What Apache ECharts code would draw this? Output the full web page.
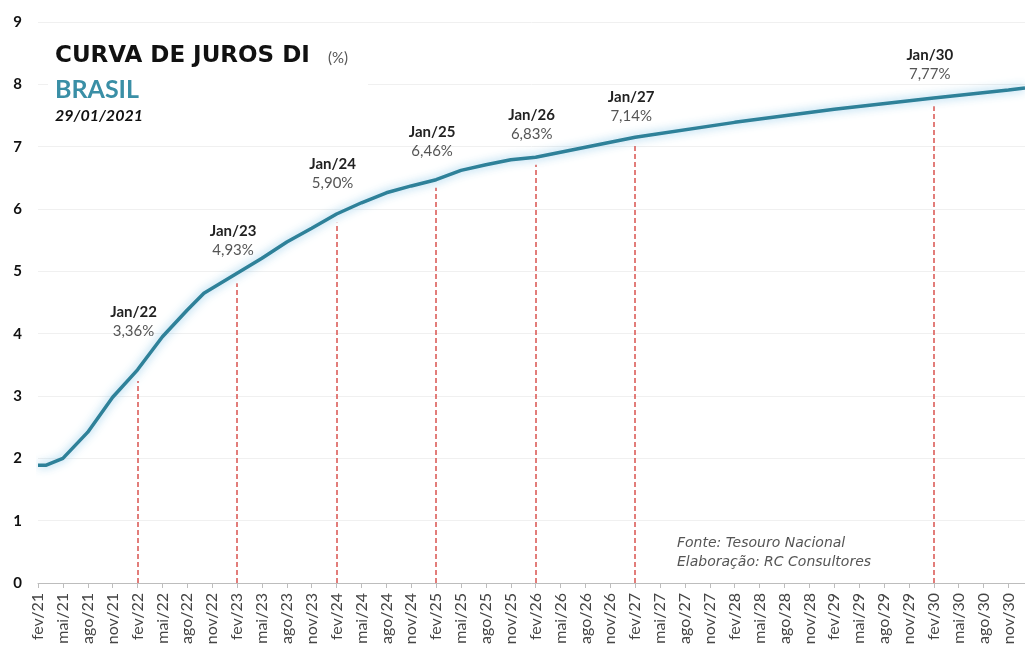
<!DOCTYPE html>
<html>
<head>
<meta charset="utf-8">
<script src="https://cdn.jsdelivr.net/npm/echarts@6/dist/echarts.min.js"></script>
<style>
  html, body { margin: 0; padding: 0; background: #fff; }
  #main { width: 1025px; height: 648px; }
</style>
</head>
<body>
<div id="main"></div>
<script>
// eixo x mensal: fev/21 ate jan/31 (rotulos a cada 3 meses)
var monthNames = ['jan', 'fev', 'mar', 'abr', 'mai', 'jun', 'jul', 'ago', 'set', 'out', 'nov', 'dez'];
var months = [];
for (var y = 21; y <= 31; y++) {
  for (var m = 0; m < 12; m++) {
    if (y === 21 && m < 1) continue;
    if (y === 31 && m > 0) break;
    months.push(monthNames[m] + '/' + y);
  }
}

// leituras da curva (vertices)
var curveMonths = ['fev/21', 'mar/21', 'mai/21', 'ago/21', 'nov/21', 'fev/22', 'mai/22', 'ago/22', 'out/22',
  'fev/23', 'mai/23', 'ago/23', 'nov/23', 'fev/24', 'mai/24', 'ago/24', 'nov/24', 'fev/25', 'mai/25',
  'ago/25', 'nov/25', 'fev/26', 'mai/26', 'ago/26', 'nov/26', 'fev/27', 'fev/28', 'fev/29', 'fev/30',
  'nov/30', 'jan/31'];
var curveValues = [1.89, 1.89, 2.0, 2.42, 2.98, 3.42, 3.95, 4.38, 4.65,
  4.97, 5.21, 5.47, 5.69, 5.92, 6.10, 6.26, 6.37, 6.47, 6.62,
  6.71, 6.79, 6.83, 6.91, 6.99, 7.07, 7.15, 7.39, 7.60, 7.78,
  7.91, 7.94];

// vencimentos destacados
var markerNames = ['Jan/22', 'Jan/23', 'Jan/24', 'Jan/25', 'Jan/26', 'Jan/27', 'Jan/30'];
var markerAxis = ['fev/22', 'fev/23', 'fev/24', 'fev/25', 'fev/26', 'fev/27', 'fev/30'];
var markerValues = [3.36, 4.93, 5.90, 6.46, 6.83, 7.14, 7.77];

var labelGap = [33, 16, 23, 20, 14, 12, 15];

var seriesData = months.map(function (mm) {
  var i = curveMonths.indexOf(mm);
  return i >= 0 ? curveValues[i] : null;
});

var font = 'Lato';
var wide = 'DejaVu Sans';

var chart = echarts.init(document.getElementById('main'), null, { renderer: 'canvas' });

var option = {
  animation: false,
  textStyle: { fontFamily: font },
  grid: { left: 38, top: 22, bottom: 65, width: 992 },
  xAxis: {
    type: 'category',
    data: months,
    boundaryGap: false,
    axisLine: { lineStyle: { color: '#bdbdbd', width: 1 } },
    axisTick: {
      interval: function (i) { return i % 3 === 0; },
      length: 5,
      lineStyle: { color: '#bdbdbd' }
    },
    axisLabel: {
      interval: function (i) { return i % 3 === 0; },
      rotate: 90,
      color: '#444',
      fontSize: 16,
      margin: 10
    }
  },
  yAxis: {
    type: 'value',
    min: 0,
    max: 9,
    interval: 1,
    axisLine: { show: false },
    axisTick: { show: false },
    axisLabel: { color: '#111', fontWeight: 'bold', fontSize: 15, margin: 16 },
    splitLine: { lineStyle: { color: '#f0f0f0' } }
  },
  graphic: [
    { type: 'rect', left: 48, top: 32, z: 10, shape: { width: 320, height: 92 }, style: { fill: '#fff' } },
    { type: 'text', left: 55, top: 45, z: 11, style: { text: 'CURVA DE JUROS DI', font: 'bold 23px "' + wide + '"', fill: '#111' } },
    { type: 'text', left: 328, top: 51, z: 11, style: { text: '(%)', font: '15px ' + font, fill: '#555' } },
    { type: 'text', left: 55, top: 77, z: 11, style: { text: 'BRASIL', font: 'bold 25px ' + font, fill: '#3a8fa6' } },
    { type: 'text', left: 55, top: 108, z: 11, style: { text: '29/01/2021', font: 'italic bold 16px ' + font, fill: '#111' } },
    { type: 'text', left: 677, top: 536, style: { text: 'Fonte: Tesouro Nacional', font: 'italic 14px "' + wide + '"', fill: '#555' } },
    { type: 'text', left: 677, top: 555, style: { text: 'Elaboração: RC Consultores', font: 'italic 14px "' + wide + '"', fill: '#555' } }
  ],
  series: [{
    type: 'line',
    data: seriesData,
    connectNulls: true,
    symbol: 'none',
    lineStyle: {
      color: '#2e8199',
      width: 3.5,
      shadowColor: 'rgba(120,190,228,0.9)',
      shadowBlur: 10
    },
    z: 5,
    markLine: {
      silent: true,
      symbol: ['none', 'none'],
      lineStyle: { color: '#d9534f', type: [5, 3], width: 1.5, shadowBlur: 0 },
      label: { show: false },
      data: markerAxis.map(function (c, i) {
        return [{ coord: [c, 0] }, { coord: [c, markerValues[i] - 0.12] }];
      })
    },
    markPoint: {
      silent: true,
      symbol: 'circle',
      symbolSize: 0,
      data: markerAxis.map(function (c, i) {
        return {
          coord: [c, markerValues[i]],
          label: {
            show: true,
            position: 'top',
            distance: labelGap[i],
            offset: [-4, 0],
            align: 'center',
            formatter: '{n|' + markerNames[i] + '}\n{v|' + markerValues[i].toFixed(2).replace('.', ',') + '%}',
            rich: {
              n: { fontFamily: font, fontWeight: 'bold', fontSize: 15, color: '#222', lineHeight: 19, align: 'center' },
              v: { fontFamily: font, fontSize: 15, color: '#555', lineHeight: 19, align: 'center' }
            }
          }
        };
      })
    }
  }]
};

chart.setOption(option);
</script>
</body>
</html>
